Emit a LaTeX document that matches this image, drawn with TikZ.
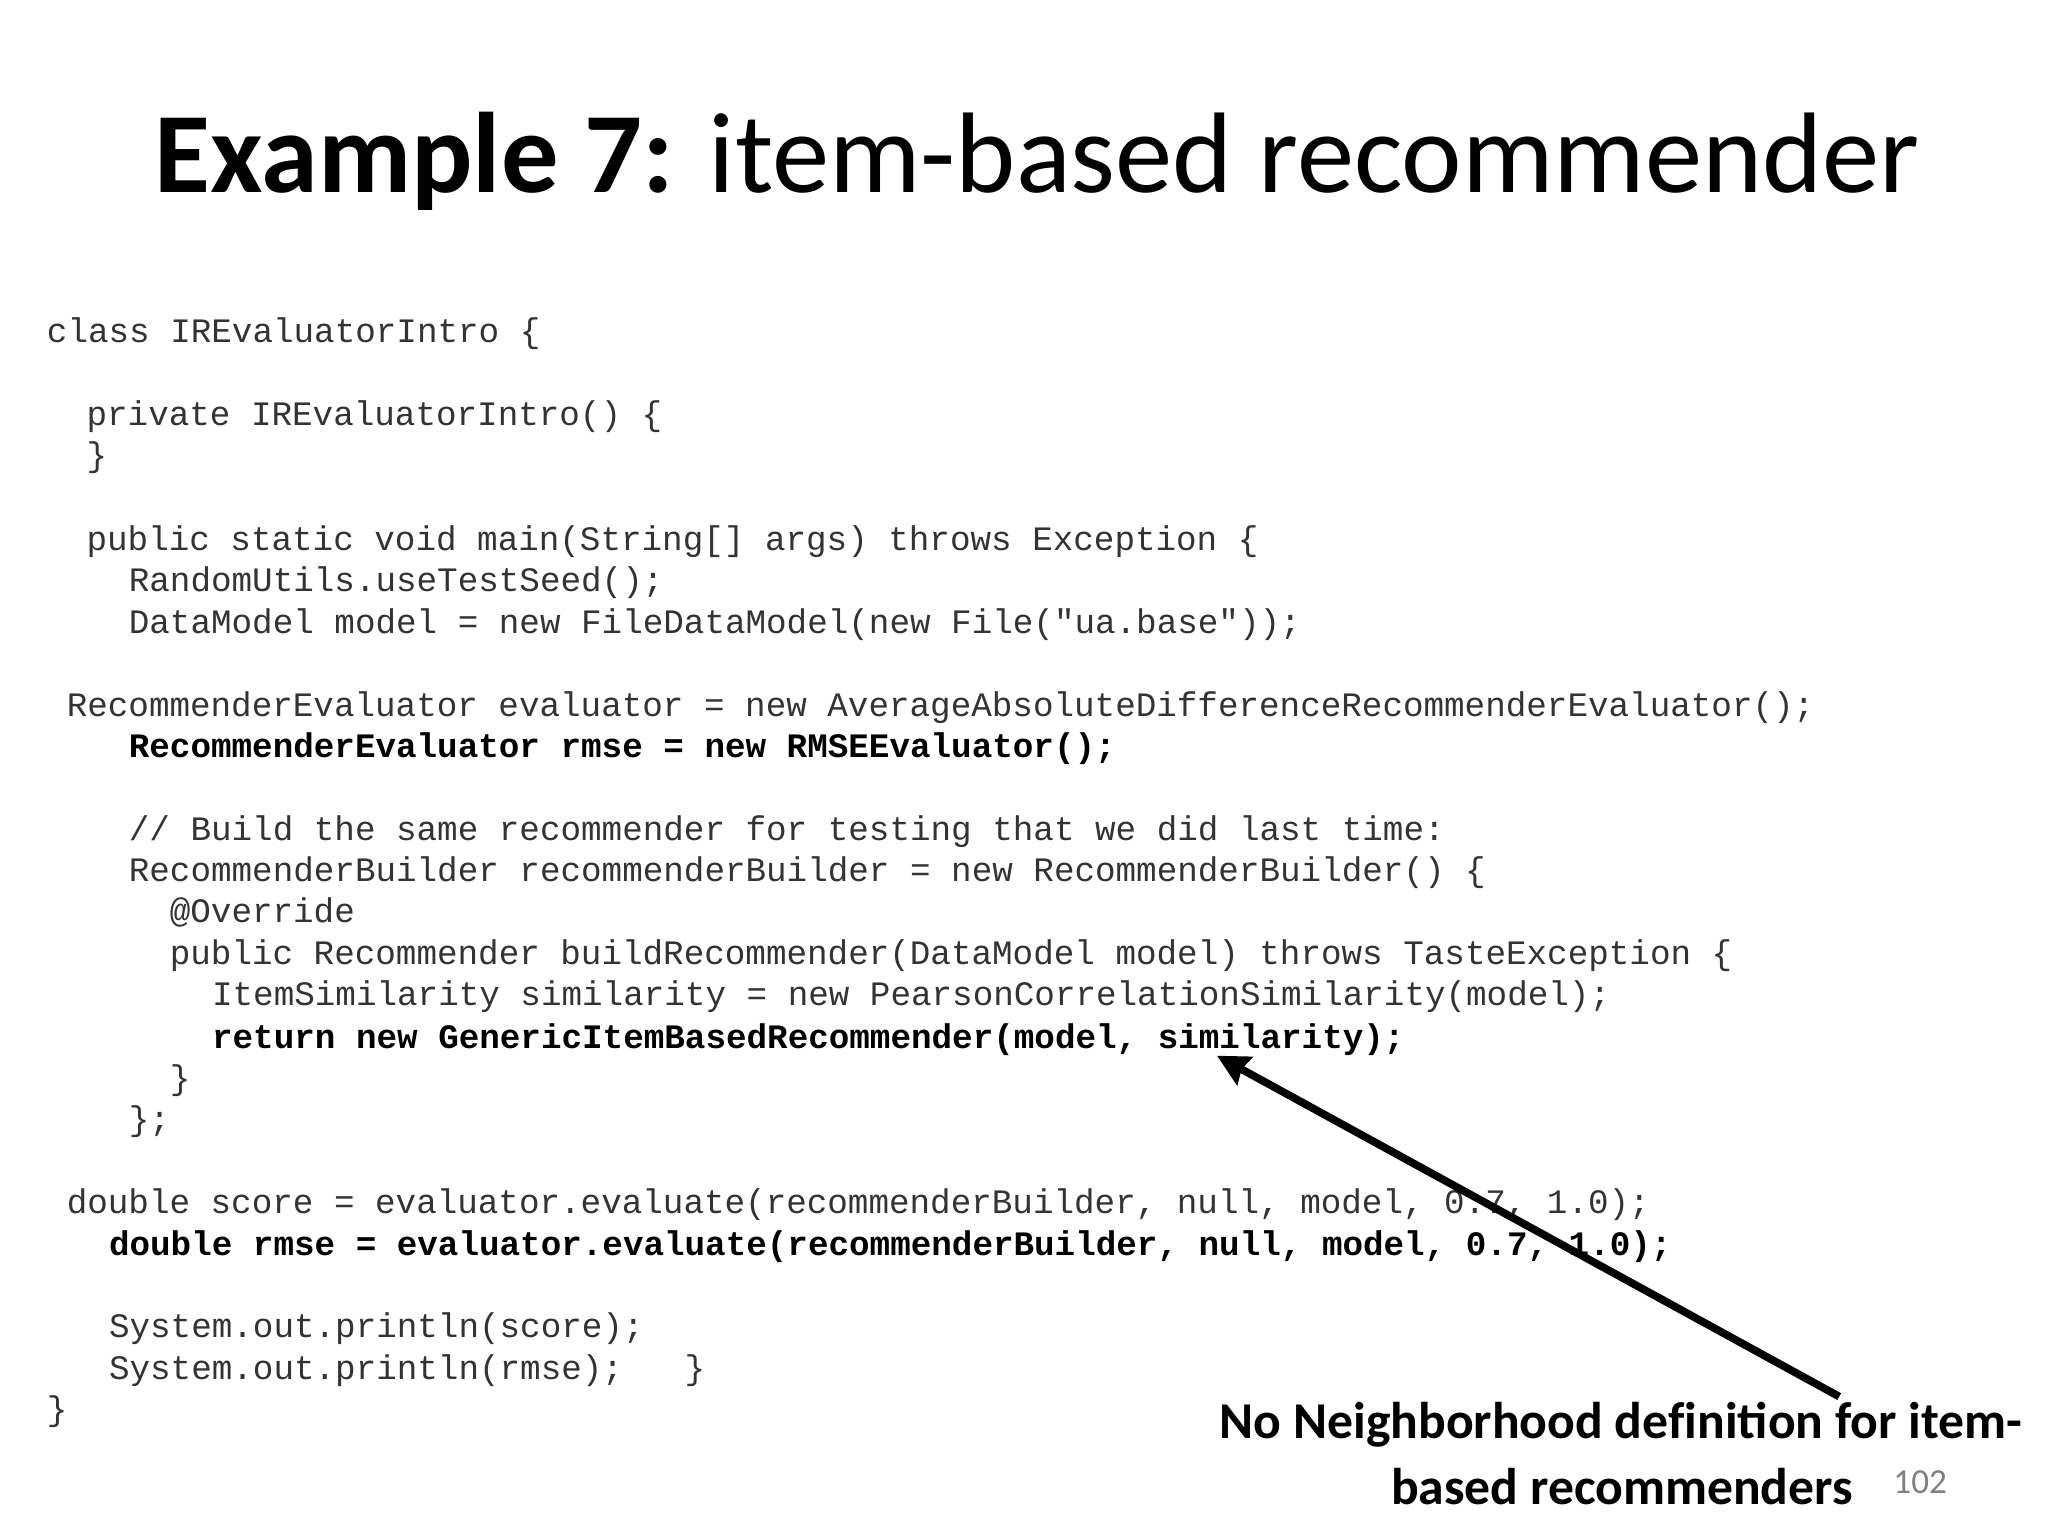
\documentclass[tikz,border=0pt]{standalone}
\usepackage{fontspec}
\setmainfont{Carlito}
\newfontfamily\codefont{Liberation Mono}
\usetikzlibrary{arrows.meta}
\definecolor{codegray}{HTML}{333333}
\tikzset{
 code/.style={anchor=mid west,inner sep=0pt,font=\codefont\fontsize{9.75}{11.8}\selectfont,text=codegray},
 codeb/.style={code,font=\codefont\bfseries\fontsize{9.75}{11.8}\selectfont,text=black},
}
\begin{document}
\begin{tikzpicture}[x=0.013213cm,y=-0.013213cm]
\useasboundingbox (0,0) rectangle (1550,1162);
\node[inner sep=0pt,font=\fontsize{32.6}{38}\selectfont] (title) at (785,122) {\textbf{Example 7:} item-based recommender};
\node[code] (l1) at (35,253) {class IREvaluatorIntro \{};
\node[code] (l2) at (65,316) {private IREvaluatorIntro() \{};
\node[code] (l3) at (65,347) {\}};
\node[code] (l4) at (65,410) {public static void main(String[] args) throws Exception \{};
\node[code] (l5) at (97,441) {RandomUtils.useTestSeed();};
\node[code] (l6) at (97,473) {DataModel model = new FileDataModel(new File("ua.base"));};
\node[code] (l7) at (50,536) {RecommenderEvaluator evaluator = new AverageAbsoluteDifferenceRecommenderEvaluator();};
\node[codeb] (l8) at (97,567) {RecommenderEvaluator rmse = new RMSEEvaluator();};
\node[code] (l9) at (97,630) {// Build the same recommender for testing that we did last time:};
\node[code] (l10) at (97,661) {RecommenderBuilder recommenderBuilder = new RecommenderBuilder() \{};
\node[code] (l11) at (128,692) {@Override};
\node[code] (l12) at (128,724) {public Recommender buildRecommender(DataModel model) throws TasteException \{};
\node[code] (l13) at (160,755) {ItemSimilarity similarity = new PearsonCorrelationSimilarity(model);};
\node[codeb] (l14) at (160,787) {return new GenericItemBasedRecommender(model, similarity);};
\node[code] (l15) at (128,818) {\}};
\node[code] (l16) at (97,849) {\};};
\node[code] (l17) at (50,912) {double score = evaluator.evaluate(recommenderBuilder, null, model, 0.7, 1.0);};
\node[codeb] (l18) at (82,944) {double rmse = evaluator.evaluate(recommenderBuilder, null, model, 0.7, 1.0);};
\node[code] (l19) at (82,1006) {System.out.println(score);};
\node[code] (l20) at (82,1038) {System.out.println(rmse);\ \ \ \}};
\node[code] (l21) at (35,1069) {\}};
\node[anchor=east,inner sep=0pt,font=\bfseries\fontsize{14.7}{17.6}\selectfont] (n1) at (1531,1078) {No Neighborhood def\kern0pt inition for item-};
\node[anchor=east,inner sep=0pt,font=\bfseries\fontsize{14.7}{17.6}\selectfont] (n2) at (1403,1125) {based recommenders};
\node[anchor=east,inner sep=0pt,font=\fontsize{10}{12}\selectfont,text=gray] (pg) at (1474,1122) {102};
\coordinate (tail) at (1392,1057);
\coordinate (head) at (921,799);
\draw[line width=2.2pt,-{Stealth[length=9pt,width=9pt,inset=1pt]}] (tail) -- (head);
\end{tikzpicture}
\end{document}
